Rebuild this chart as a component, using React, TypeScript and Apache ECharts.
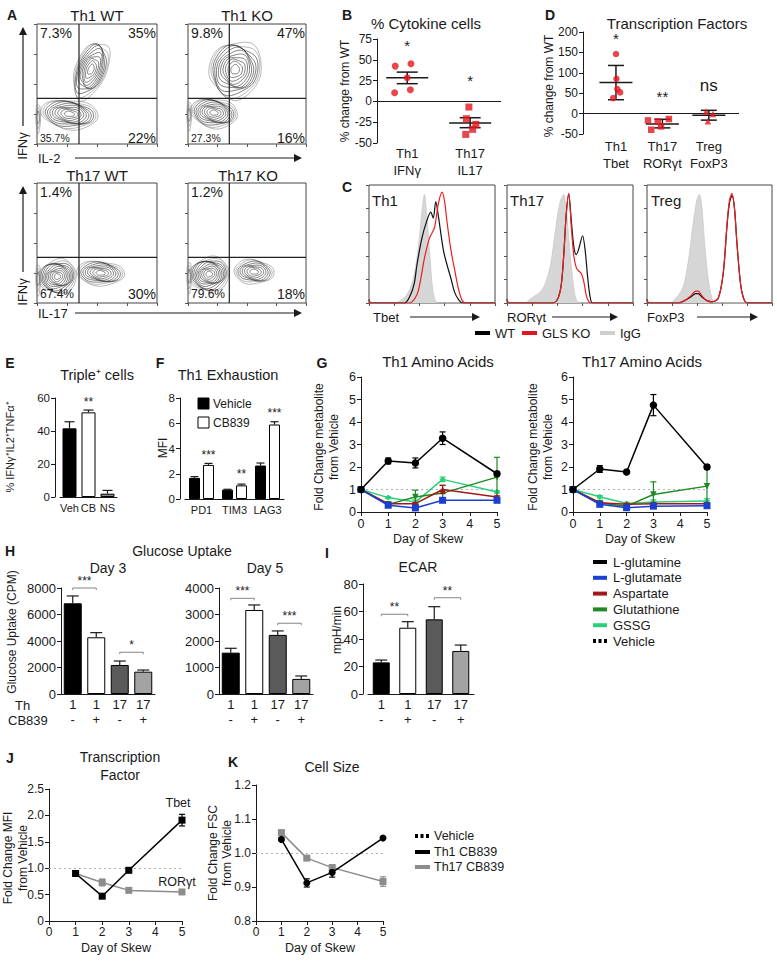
import React, { useEffect, useRef } from "react";
import * as echarts from "echarts";

const FONT = '"Liberation Sans", Arial, Helvetica, sans-serif';
const INK = "#1a1a1a";
const RED = "#e3161d";

// ===== Panel A: flow contour blobs [x%, y%, halfW%, halfH%, tiltDeg, levels] =====
const flowTh1WT = [[45, 62, 13, 25, 22, 10], [27, 25, 24, 12, 6, 10], [1, 22, 2, 12, 0, 3]];
const flowTh1KO = [[40, 62, 22, 24, 18, 11], [22, 26, 20, 12, 8, 10], [1, 24, 2, 12, 0, 3]];
const flowTh17WT = [[17, 22, 16, 14, -10, 11], [53, 25, 20, 10, 4, 9], [1, 20, 2, 13, 0, 3]];
const flowTh17KO = [[18, 24, 17, 14, -10, 11], [56, 26, 17, 10, 4, 8], [1, 22, 2, 13, 0, 3]];
const gateX = [[35, 0], [35, 100]];
const gateY = [[0, 38], [100, 38]];
const quadTh1WT = ["7.3%", "35%", "35.7%", "22%"];
const quadTh1KO = ["9.8%", "47%", "27.3%", "16%"];
const quadTh17WT = ["1.4%", "", "67.4%", "30%"];
const quadTh17KO = ["1.2%", "", "79.6%", "18%"];

// ===== Panel B =====
const catB = ["Th1\nIFNγ", "Th17\nIL17"];
const ptsBTh1 = [[0.81, 42.4], [1.06, 45.3], [1.0, 28.5], [0.8, 10.4], [1.05, 14]];
const ptsBTh17 = [[1.98, -6.8], [1.94, -20.8], [2.09, -27.6], [2.04, -33.6], [1.93, -39.7]];
const meanB = [[1, 28.5, 21.3, 35.2], [2, -26, -31.6, -19.6]];
const sigB = [[1, 67], [2, 25]];
const sigBText = ["*", "*"];

// ===== Panel D =====
const catD = ["Th1\nTbet", "Th17\nRORγt", "Treg\nFoxP3"];
const ptsDTh1 = [[1.0, 146], [1.01, 85.5], [1.03, 60], [1.09, 52], [0.94, 38]];
const ptsDTh17 = [[1.69, -16.7], [1.9, -19], [2.14, -13.3], [1.76, -39.5], [1.97, -31.4]];
const ptsDTreg = [[2.94, 5.4], [3.09, -1], [2.98, -19]];
const meanD = [[1, 76.5, 34, 118], [2, -25.5, -35, -14], [3, -4, -16, 8]];
const sigD = [[1, 185], [2, 42], [3, 68]];
const sigDText = ["*", "**", "ns"];

// ===== Panel C histograms [x%, height%] =====
const th1IgG = [[0, 4], [1.5, 0], [20, 0], [25, 2], [30, 7], [34, 16], [37, 31], [40, 55], [42, 78], [44, 92], [46, 72], [48, 45], [50, 17], [52, 4], [55, 0], [100, 0]];
const th1WT = [[0, 3], [1.5, 0], [28, 0], [33, 7], [36, 17], [38, 32], [42, 55], [46, 70], [49, 77], [51, 72], [53, 86], [55, 74], [59, 45], [62, 32], [65, 21], [68, 9], [71, 3], [74, 0], [100, 0]];
const th1KO = [[0, 3], [1.5, 0], [32, 0], [38, 7], [41, 20], [44, 38], [48, 55], [52, 64], [55, 84], [58, 94], [60, 86], [62, 68], [65, 45], [68, 28], [71, 12], [74, 2], [77, 0], [100, 0]];
const th17IgG = [[0, 3], [1.5, 0], [14, 0], [18, 3], [22, 6], [27, 10], [31, 18], [35, 35], [39, 66], [42, 85], [45, 92], [47, 80], [50, 43], [53, 12], [55, 3], [58, 0], [100, 0]];
const th17WT = [[0, 3], [1.5, 0], [36, 0], [40, 3], [43, 15], [45, 40], [47, 75], [49, 92], [51, 70], [53, 48], [55, 41], [57, 46], [60, 57], [62, 45], [64, 22], [66, 5], [68, 0], [100, 0]];
const th17KO = [[0, 3], [1.5, 0], [36, 0], [40, 3], [43, 15], [45, 40], [47, 75], [49, 93], [51, 65], [53, 40], [55, 30], [57, 27], [59, 25], [61, 18], [63, 6], [65, 1], [67, 0], [100, 0]];
const tregIgG = [[0, 3], [1.5, 0], [18, 0], [24, 5], [29, 14], [33, 35], [37, 68], [40, 88], [42, 92], [44, 80], [46, 52], [49, 20], [52, 4], [55, 0], [100, 0]];
const tregWT = [[0, 3], [1.5, 0], [25, 0], [30, 2], [35, 5], [39, 8], [41, 8], [44, 5], [48, 2], [52, 1], [57, 4], [61, 25], [64, 65], [66, 85], [68, 91], [70, 80], [72, 50], [75, 15], [78, 2], [81, 0], [100, 0]];
const tregKO = [[0, 3], [1.5, 0], [25, 0], [30, 2], [35, 6], [39, 10], [41, 10], [44, 6], [48, 2], [52, 1], [57, 4], [61, 26], [64, 67], [66, 87], [68, 93], [70, 80], [72, 50], [75, 15], [78, 2], [81, 0], [100, 0]];

// ===== Panel E =====
const catE = ["Veh", "CB", "NS"];
const valE = [41.6, 51.3, 2];
const errE = [4, 1.4, 2];
const sigE = [[1, 57.5]];
const sigEText = ["**"];

// ===== Panel F =====
const catF = ["PD1", "TIM3", "LAG3"];
const vehF = [1.67, 0.74, 2.65];
const cbF = [2.7, 1.08, 5.9];
const errVehF = [0.1, 0.03, 0.2];
const errCbF = [0.12, 0.1, 0.22];
const sigF = [[0, 3.5], [1, 1.95], [2, 6.85]];
const sigFText = ["***", "**", "***"];

// ===== Panel G =====
const days = [0, 1, 2, 3, 5];
const th1Glutamine = [1, 2.27, 2.18, 3.28, 1.7];
const th1GlutamineErr = [0.05, 0.13, 0.22, 0.28, 0.1];
const th1Glutamate = [1, 0.3, 0.18, 0.52, 0.52];
const th1GlutamateErr = [0, 0.05, 0.05, 0.05, 0.05];
const th1Aspartate = [1, 0.37, 0.37, 1.0, 0.67];
const th1AspartateErr = [0, 0.05, 0.05, 0.18, 0.05];
const th1Glutathione = [1, 0.34, 0.67, 0.84, 1.55];
const th1GlutathioneErr = [0, 0.05, 0.3, 0.35, 0.88];
const th1GSSG = [1, 0.64, 0.44, 1.45, 0.89];
const th1GSSGErr = [0, 0.04, 0.1, 0.1, 0.05];
const th17Glutamine = [1, 1.91, 1.78, 4.75, 2.0];
const th17GlutamineErr = [0.05, 0.15, 0.05, 0.47, 0.1];
const th17Glutamate = [1, 0.34, 0.19, 0.26, 0.28];
const th17GlutamateErr = [0, 0.05, 0.05, 0.05, 0.05];
const th17Aspartate = [1, 0.41, 0.34, 0.37, 0.37];
const th17AspartateErr = [0, 0.04, 0.04, 0.04, 0.04];
const th17Glutathione = [1, 0.4, 0.26, 0.78, 1.15];
const th17GlutathioneErr = [0, 0.05, 0.1, 0.56, 0.85];
const th17GSSG = [1, 0.68, 0.38, 0.44, 0.49];
const th17GSSGErr = [0, 0.05, 0.05, 0.1, 0.1];
const metNames = ["L-glutamine", "L-glutamate", "Aspartate", "Glutathione", "GSSG"];

// ===== Panels H and I =====
const thRow = ["1", "1", "17", "17"];
const cbRow = ["-", "+", "-", "+"];
const day3 = [6845, 4280, 2190, 1685];
const day3Err = [555, 350, 300, 125];
const day5 = [1560, 3170, 2230, 570];
const day5Err = [165, 190, 150, 110];
const ecar = [23, 48.2, 54.3, 31.3];
const ecarErr = [1.7, 4.4, 9.2, 4.3];
const brDay3 = [[0, 1, 8000], [2, 3, 3150]];
const brDay3Text = ["***", "*"];
const brDay5 = [[0, 1, 3610], [2, 3, 2670]];
const brDay5Text = ["***", "***"];
const brEcar = [[0, 1, 58], [2, 3, 70]];
const brEcarText = ["**", "**"];

// ===== Panels J and K =====
const skewDays = [1, 2, 3, 5];
const tbet = [0.9, 0.47, 0.96, 1.91];
const tbetErr = [0.03, 0.02, 0.02, 0.11];
const rorgt = [0.9, 0.73, 0.58, 0.55];
const rorgtErr = [0.02, 0.065, 0.02, 0.02];
const fscTh1 = [1.04, 0.912, 0.943, 1.044];
const fscTh1Err = [0.004, 0.012, 0.014, 0.004];
const fscTh17 = [1.06, 0.985, 0.957, 0.916];
const fscTh17Err = [0.004, 0.004, 0.008, 0.014];
const jLabels = [[4.85, 2.24], [4.81, 0.74]];
const jLabelText = ["Tbet", "RORγt"];

// ---------- layout ----------
const GRIDS = [
  { left: 37, top: 24, width: 120, height: 120, box: true }, // 0 A Th1 WT
  { left: 188, top: 24, width: 118, height: 120, box: true }, // 1 A Th1 KO
  { left: 37, top: 183, width: 120, height: 120, box: true }, // 2 A Th17 WT
  { left: 188, top: 183, width: 118, height: 120, box: true }, // 3 A Th17 KO
  { left: 377, top: 39, width: 124, height: 104 }, // 4 B
  { left: 583, top: 32, width: 156, height: 102 }, // 5 D
  { left: 369, top: 185, width: 126, height: 118, box: true }, // 6 C Th1
  { left: 507, top: 185, width: 126, height: 118, box: true }, // 7 C Th17
  { left: 647, top: 185, width: 125, height: 118, box: true }, // 8 C Treg
  { left: 60, top: 398, width: 57, height: 99 }, // 9 E
  { left: 185, top: 398, width: 99, height: 101 }, // 10 F
  { left: 361, top: 377, width: 136, height: 135 }, // 11 G Th1
  { left: 573, top: 377, width: 134, height: 135 }, // 12 G Th17
  { left: 61, top: 588, width: 94, height: 106 }, // 13 H day3
  { left: 219, top: 588, width: 94, height: 106 }, // 14 H day5
  { left: 368, top: 584, width: 106, height: 110 }, // 15 I
  { left: 49, top: 789, width: 133, height: 132 }, // 16 J
  { left: 256, top: 785, width: 127, height: 136 }, // 17 K
];

const ls = (size = 12) => ({ fontFamily: FONT, fontSize: size, color: INK });
const tick = (len = 4) => ({ show: true, length: len, lineStyle: { color: INK, width: 1 } });
const line = { show: true, onZero: false, lineStyle: { color: INK, width: 1 } };
const noLine = { show: false, onZero: false };
const plain = (v: number) => String(v);

function flowAxis(gi: number, interval: number) {
  return {
    type: "value", gridIndex: gi, min: 0, max: 100, interval,
    axisLine: noLine, axisTick: { show: true, length: 3, lineStyle: { color: "#555" } },
    axisLabel: { show: false }, splitLine: { show: false },
  };
}
function valAxis(gi: number, min: number, max: number, interval: number, extra: any = {}) {
  return {
    type: "value", gridIndex: gi, min, max, interval,
    axisLine: line, axisTick: tick(4), splitLine: { show: false },
    axisLabel: { ...ls(12), margin: 5, formatter: plain, ...(extra.axisLabel || {}) },
    ...Object.fromEntries(Object.entries(extra).filter(([k]) => k !== "axisLabel")),
  };
}
function catAxis(gi: number, data: string[], labelExtra: any = {}) {
  return {
    type: "category", gridIndex: gi, data, axisLine: line, axisTick: { show: false },
    splitLine: { show: false }, axisLabel: { ...ls(12), margin: 4, interval: 0, ...labelExtra },
  };
}

// ---------- helper series ----------
function contourSeries(gi: number, blobs: number[][]) {
  return {
    type: "custom", xAxisIndex: gi, yAxisIndex: gi, silent: true, z: 3, data: blobs,
    renderItem: (p: any, api: any) => {
      const c = api.coord([api.value(0), api.value(1)]);
      const sz = api.size([api.value(2), api.value(3)]);
      const th = (api.value(4) * Math.PI) / 180;
      const n = api.value(5);
      const children: any[] = [];
      for (let k = n; k >= 1; k--) {
        const s = Math.pow(k / n, 0.75);
        const pts: number[][] = [];
        for (let i = 0; i < 40; i++) {
          const a = (i / 40) * Math.PI * 2;
          const x = Math.cos(a) * sz[0] * s;
          const y = Math.sin(a) * sz[1] * s * (1 + 0.12 * Math.sin(3 * a + k));
          pts.push([c[0] + x * Math.cos(th) - y * Math.sin(th), c[1] + x * Math.sin(th) + y * Math.cos(th)]);
        }
        children.push({
          type: "polygon", shape: { points: pts },
          style: { fill: k === 1 ? "#fff" : "none", stroke: k > n - 2 ? "#8a8a8a" : "#2e2e2e", lineWidth: 0.6 },
        });
      }
      return { type: "group", children };
    },
  };
}
function gateSeries(gi: number, data: number[][]) {
  return {
    type: "line", xAxisIndex: gi, yAxisIndex: gi, data, showSymbol: false, silent: true, z: 4,
    lineStyle: { color: "#222", width: 1.2 },
  };
}
function histSeries(gi: number, data: number[][], color: string, fill: string | null, z: number) {
  return {
    type: "line", xAxisIndex: gi, yAxisIndex: gi, data, smooth: 0.3, showSymbol: false, silent: true, z,
    lineStyle: { color, width: fill ? 0.8 : 1.2 },
    areaStyle: fill ? { color: fill, opacity: 1 } : undefined,
  };
}
function annotSeries(gi: number, pts: number[][], texts: string[], size = 14, offsetPx = 0) {
  return {
    type: "custom", xAxisIndex: gi, yAxisIndex: gi, silent: true, z: 20, data: pts,
    renderItem: (p: any, api: any) => {
      const c = api.coord([api.value(0), api.value(1)]);
      return {
        type: "text", x: c[0] + offsetPx, y: c[1],
        style: {
          text: texts[p.dataIndex], fontSize: size, fontFamily: FONT, fill: INK,
          align: "center", verticalAlign: "middle", textAlign: "center", textVerticalAlign: "middle",
        },
      };
    },
  };
}
function barErrSeries(gi: number, means: number[], errs: number[], offsetPx = 0, cap = 5) {
  return {
    type: "custom", xAxisIndex: gi, yAxisIndex: gi, silent: true, z: 5,
    data: means.map((m, i) => [i, m, m + errs[i]]),
    renderItem: (p: any, api: any) => {
      const a = api.coord([api.value(0), api.value(1)]);
      const b = api.coord([api.value(0), api.value(2)]);
      const x = a[0] + offsetPx;
      const st = { stroke: INK, lineWidth: 1.2 };
      return {
        type: "group", children: [
          { type: "line", shape: { x1: x, y1: a[1], x2: x, y2: b[1] }, style: st },
          { type: "line", shape: { x1: x - cap, y1: b[1], x2: x + cap, y2: b[1] }, style: st },
        ],
      };
    },
  };
}
function meanSemSeries(gi: number, data: number[][], halfMean: number, halfCap: number) {
  return {
    type: "custom", xAxisIndex: gi, yAxisIndex: gi, silent: true, z: 6, data,
    renderItem: (p: any, api: any) => {
      const m = api.coord([api.value(0), api.value(1)]);
      const lo = api.coord([api.value(0), api.value(2)]);
      const hi = api.coord([api.value(0), api.value(3)]);
      const st = { stroke: INK, lineWidth: 1.5 };
      return {
        type: "group", children: [
          { type: "line", shape: { x1: m[0] - halfMean, y1: m[1], x2: m[0] + halfMean, y2: m[1] }, style: st },
          { type: "line", shape: { x1: m[0], y1: lo[1], x2: m[0], y2: hi[1] }, style: st },
          { type: "line", shape: { x1: m[0] - halfCap, y1: lo[1], x2: m[0] + halfCap, y2: lo[1] }, style: st },
          { type: "line", shape: { x1: m[0] - halfCap, y1: hi[1], x2: m[0] + halfCap, y2: hi[1] }, style: st },
        ],
      };
    },
  };
}
function lineErrSeries(gi: number, xs: number[], vals: number[], errs: number[], color: string, cap = 3) {
  const data = xs.map((d, i) => [d, vals[i] - errs[i], vals[i] + errs[i], errs[i]]).filter((r) => r[3] > 0);
  return {
    type: "custom", xAxisIndex: gi, yAxisIndex: gi, silent: true, z: 4, data,
    renderItem: (p: any, api: any) => {
      const a = api.coord([api.value(0), api.value(1)]);
      const b = api.coord([api.value(0), api.value(2)]);
      const st = { stroke: color, lineWidth: 1.2 };
      return {
        type: "group", children: [
          { type: "line", shape: { x1: a[0], y1: a[1], x2: a[0], y2: b[1] }, style: st },
          { type: "line", shape: { x1: a[0] - cap, y1: a[1], x2: a[0] + cap, y2: a[1] }, style: st },
          { type: "line", shape: { x1: a[0] - cap, y1: b[1], x2: a[0] + cap, y2: b[1] }, style: st },
        ],
      };
    },
  };
}
function bracketSeries(gi: number, data: number[][], texts: string[]) {
  return {
    type: "custom", xAxisIndex: gi, yAxisIndex: gi, silent: true, z: 6, data,
    renderItem: (p: any, api: any) => {
      const a = api.coord([api.value(0), api.value(2)]);
      const b = api.coord([api.value(1), api.value(2)]);
      const st = { stroke: "#777", lineWidth: 0.9 };
      return {
        type: "group", children: [
          { type: "line", shape: { x1: a[0], y1: a[1], x2: b[0], y2: b[1] }, style: st },
          { type: "line", shape: { x1: a[0], y1: a[1], x2: a[0], y2: a[1] + 2 }, style: st },
          { type: "line", shape: { x1: b[0], y1: b[1], x2: b[0], y2: b[1] + 2 }, style: st },
          {
            type: "text", x: (a[0] + b[0]) / 2, y: a[1] - 7,
            style: {
              text: texts[p.dataIndex], fontSize: 12, fontFamily: FONT, fill: INK,
              align: "center", verticalAlign: "middle", textAlign: "center", textVerticalAlign: "middle",
            },
          },
        ],
      };
    },
  };
}
function metLine(gi: number, name: string, vals: number[], color: string, symbol: string, size: number, z: number) {
  return {
    type: "line", name, xAxisIndex: gi, yAxisIndex: gi, silent: true, z,
    data: days.map((d, i) => [d, vals[i]]),
    symbol, symbolSize: size, showSymbol: true,
    lineStyle: { color, width: 1.5 }, itemStyle: { color, borderWidth: 0 },
  };
}
function vehicleMark(color = "#a8a8a8") {
  return {
    silent: true, symbol: "none", label: { show: false },
    lineStyle: { color, width: 1, type: [2, 3] }, data: [{ yAxis: 1 }],
  };
}

// ---------- graphic helpers ----------
function T(x: number, y: number, text: string, size = 12, o: any = {}) {
  return {
    type: "text", x, y, rotation: o.rot || 0, silent: true, z: 50,
    style: {
      text, fontSize: size, fontFamily: FONT, fontWeight: o.bold ? "bold" : "normal", fill: o.color || INK,
      align: o.align || "center", verticalAlign: "middle", textAlign: o.align || "center", textVerticalAlign: "middle",
    },
  };
}
function Ln(x1: number, y1: number, x2: number, y2: number, color = INK, w = 1, dash?: number[]) {
  return { type: "line", silent: true, z: 50, shape: { x1, y1, x2, y2 }, style: { stroke: color, lineWidth: w, lineDash: dash } };
}
function arrowRight(x1: number, x2: number, y: number) {
  return [Ln(x1, y, x2 - 6, y, INK, 1.2), { type: "polygon", silent: true, z: 50, shape: { points: [[x2 - 8, y - 4], [x2, y], [x2 - 8, y + 4]] }, style: { fill: INK } }];
}
function arrowUp(x: number, yBottom: number, yTop: number) {
  return [Ln(x, yBottom, x, yTop + 6, INK, 1.2), { type: "polygon", silent: true, z: 50, shape: { points: [[x - 4, yTop + 8], [x, yTop], [x + 4, yTop + 8]] }, style: { fill: INK } }];
}
function quadLabels(g: any, q: string[], topY: number, botY: number) {
  const l = g.left + 3, r = g.left + g.width - 1;
  return [
    T(l, topY, q[0], 14, { align: "left" }),
    T(r, topY, q[1], 14, { align: "right" }),
    T(l, botY, q[2], q[2].length > 4 && g.top < 100 ? 10.5 : 12, { align: "left" }),
    T(r, botY, q[3], 14, { align: "right" }),
  ].filter((e: any) => e.style.text);
}

function buildOption() {
  const grid = GRIDS.map((g) => ({
    left: g.left, top: g.top, width: g.width, height: g.height,
    show: !!g.box, borderColor: "#444", borderWidth: 1, backgroundColor: "transparent",
  }));

  const xAxis: any[] = [
    flowAxis(0, 25), flowAxis(1, 25), flowAxis(2, 25), flowAxis(3, 25),
    {
      type: "value", gridIndex: 4, min: 0.52, max: 2.49, axisLine: noLine, axisTick: { show: false }, splitLine: { show: false },
      axisLabel: { ...ls(13), customValues: [1, 2], formatter: (v: number) => catB[Math.round(v) - 1] || "", lineHeight: 17, margin: 2 },
    },
    {
      type: "value", gridIndex: 5, min: 0.29, max: 3.65, axisLine: noLine, axisTick: { show: false }, splitLine: { show: false },
      axisLabel: { ...ls(13), customValues: [1, 2, 3], formatter: (v: number) => catD[Math.round(v) - 1] || "", lineHeight: 17, margin: 4 },
    },
    flowAxis(6, 20), flowAxis(7, 20), flowAxis(8, 20),
    catAxis(9, catE, { fontSize: 11, margin: 5 }),
    catAxis(10, catF, { fontSize: 11, margin: 5 }),
    valAxis(11, 0, 5, 1, { axisLabel: { fontSize: 12.5 } }),
    valAxis(12, 0, 5, 1, { axisLabel: { fontSize: 12.5 } }),
    catAxis(13, thRow, { fontSize: 13, lineHeight: 15, margin: 3, formatter: (v: string, i: number) => `${thRow[i]}\n${cbRow[i]}` }),
    catAxis(14, thRow, { fontSize: 13, lineHeight: 15, margin: 3, formatter: (v: string, i: number) => `${thRow[i]}\n${cbRow[i]}` }),
    catAxis(15, thRow, { fontSize: 13, lineHeight: 15, margin: 3, formatter: (v: string, i: number) => `${thRow[i]}\n${cbRow[i]}` }),
    valAxis(16, 0, 5, 1),
    valAxis(17, 0, 5, 1),
  ];
  const yAxis: any[] = [
    flowAxis(0, 25), flowAxis(1, 25), flowAxis(2, 25), flowAxis(3, 25),
    valAxis(4, -50, 75, 25),
    valAxis(5, -50, 200, 50),
    flowAxis(6, 20), flowAxis(7, 20), flowAxis(8, 20),
    valAxis(9, 0, 60, 20, { offset: 5, axisLabel: { fontSize: 11.5 } }),
    valAxis(10, 0, 8, 2, { offset: 5, axisLabel: { fontSize: 11.5 } }),
    valAxis(11, 0, 6, 1, { axisLabel: { fontSize: 12.5 } }),
    valAxis(12, 0, 6, 1, { axisLabel: { fontSize: 12.5 } }),
    valAxis(13, 0, 8000, 2000, { axisLabel: { fontSize: 13 } }),
    valAxis(14, 0, 4000, 1000, { axisLabel: { fontSize: 13 } }),
    valAxis(15, 0, 80, 20, { offset: 5, axisLabel: { fontSize: 13 } }),
    valAxis(16, 0, 2.5, 0.5, { axisLabel: { formatter: (v: number) => (v === 0 ? "0" : v.toFixed(1)) } }),
    valAxis(17, 0.8, 1.2, 0.1, { axisLabel: { formatter: (v: number) => v.toFixed(1) } }),
  ];

  const series: any[] = [];
  // A
  [flowTh1WT, flowTh1KO, flowTh17WT, flowTh17KO].forEach((b, i) => {
    series.push(contourSeries(i, b));
    series.push(gateSeries(i, gateX));
    series.push(gateSeries(i, gateY));
  });
  // B
  series.push({
    type: "scatter", xAxisIndex: 4, yAxisIndex: 4, data: ptsBTh1, symbol: "circle", symbolSize: 7, silent: true,
    itemStyle: { color: RED }, z: 7,
    markLine: { silent: true, symbol: "none", label: { show: false }, lineStyle: { color: INK, width: 1, type: "solid" }, data: [{ yAxis: 0 }] },
  });
  series.push({ type: "scatter", xAxisIndex: 4, yAxisIndex: 4, data: ptsBTh17, symbol: "rect", symbolSize: 7, silent: true, itemStyle: { color: RED }, z: 7 });
  series.push(meanSemSeries(4, meanB, 21, 10.5));
  series.push(annotSeries(4, sigB, sigBText, 15));
  // D
  series.push({
    type: "scatter", xAxisIndex: 5, yAxisIndex: 5, data: ptsDTh1, symbol: "circle", symbolSize: 6.5, silent: true,
    itemStyle: { color: RED }, z: 7,
    markLine: { silent: true, symbol: "none", label: { show: false }, lineStyle: { color: INK, width: 1, type: "solid" }, data: [{ yAxis: 0 }] },
  });
  series.push({ type: "scatter", xAxisIndex: 5, yAxisIndex: 5, data: ptsDTh17, symbol: "rect", symbolSize: 6.5, silent: true, itemStyle: { color: RED }, z: 7 });
  series.push({ type: "scatter", xAxisIndex: 5, yAxisIndex: 5, data: ptsDTreg, symbol: "triangle", symbolSize: 6.5, silent: true, itemStyle: { color: RED }, z: 7 });
  series.push(meanSemSeries(5, meanD, 16.5, 8));
  series.push({ ...annotSeries(5, sigD.slice(0, 2), sigDText.slice(0, 2), 15) });
  series.push(annotSeries(5, sigD.slice(2), sigDText.slice(2), 17));
  // C
  series.push(histSeries(6, th1IgG, "#c9c9c9", "#d6d6d6", 2), histSeries(6, th1WT, "#111", null, 3), histSeries(6, th1KO, "#ee1c1c", null, 4));
  series.push(histSeries(7, th17IgG, "#c9c9c9", "#d6d6d6", 2), histSeries(7, th17WT, "#111", null, 3), histSeries(7, th17KO, "#ee1c1c", null, 4));
  series.push(histSeries(8, tregIgG, "#c9c9c9", "#d6d6d6", 2), histSeries(8, tregWT, "#111", null, 3), histSeries(8, tregKO, "#ee1c1c", null, 4));
  // E
  const colE = ["#000", "#fff", "#8a8a8a"];
  series.push({
    type: "bar", xAxisIndex: 9, yAxisIndex: 9, barWidth: 14, silent: true,
    data: valE.map((v, i) => ({ value: v, itemStyle: { color: colE[i], borderColor: "#000", borderWidth: 1 } })),
  });
  series.push(barErrSeries(9, valE, errE, 0, 5));
  series.push(annotSeries(9, sigE, sigEText, 12));
  // F
  series.push({
    type: "bar", name: "Vehicle", xAxisIndex: 10, yAxisIndex: 10, barWidth: 11, barGap: "27%", silent: true,
    data: vehF, itemStyle: { color: "#000", borderColor: "#000", borderWidth: 1 },
  });
  series.push({
    type: "bar", name: "CB839", xAxisIndex: 10, yAxisIndex: 10, barWidth: 11, barGap: "27%", silent: true,
    data: cbF, itemStyle: { color: "#fff", borderColor: "#000", borderWidth: 1 },
  });
  series.push(barErrSeries(10, vehF, errVehF, -7, 4), barErrSeries(10, cbF, errCbF, 7, 4));
  series.push(annotSeries(10, sigF, sigFText, 12, 7));
  // G
  const gCols = ["#000000", "#1b3fd1", "#a31818", "#1f8a22", "#2ccf78"];
  const gSym = ["circle", "rect", "triangle", "path://M0,0L10,0L5,9Z", "diamond"];
  const gSize = [7.5, 7, 6, 6.5, 6];
  const th1Sets = [[th1Glutamine, th1GlutamineErr], [th1Glutamate, th1GlutamateErr], [th1Aspartate, th1AspartateErr], [th1Glutathione, th1GlutathioneErr], [th1GSSG, th1GSSGErr]];
  const th17Sets = [[th17Glutamine, th17GlutamineErr], [th17Glutamate, th17GlutamateErr], [th17Aspartate, th17AspartateErr], [th17Glutathione, th17GlutathioneErr], [th17GSSG, th17GSSGErr]];
  [[11, th1Sets], [12, th17Sets]].forEach(([gi, sets]: any) => {
    for (let k = sets.length - 1; k >= 0; k--) {
      const s = metLine(gi, metNames[k], sets[k][0], gCols[k], gSym[k], gSize[k], 10 - k);
      if (k === 4) (s as any).markLine = vehicleMark("#b0b0b0");
      series.push(s);
      series.push({ ...lineErrSeries(gi, days, sets[k][0], sets[k][1], gCols[k], 3), z: 10 - k });
    }
  });
  // H, I
  const colBars = ["#000", "#fff", "#5a5a5a", "#a3a3a3"];
  [[13, day3, day3Err, brDay3, brDay3Text, 18], [14, day5, day5Err, brDay5, brDay5Text, 18], [15, ecar, ecarErr, brEcar, brEcarText, 17]].forEach(
    ([gi, vals, errs, br, brT, bw]: any) => {
      series.push({
        type: "bar", xAxisIndex: gi, yAxisIndex: gi, barWidth: bw, silent: true,
        data: vals.map((v: number, i: number) => ({ value: v, itemStyle: { color: colBars[i], borderColor: "#000", borderWidth: 1 } })),
      });
      series.push(barErrSeries(gi, vals, errs, 0, 6));
      series.push(bracketSeries(gi, br, brT));
    }
  );
  // J
  series.push({
    type: "line", xAxisIndex: 16, yAxisIndex: 16, data: skewDays.map((d, i) => [d, rorgt[i]]), symbol: "rect", symbolSize: 7, silent: true,
    lineStyle: { color: "#8c8c8c", width: 1.5 }, itemStyle: { color: "#8c8c8c" }, z: 5, markLine: vehicleMark("#b0b0b0"),
  });
  series.push(lineErrSeries(16, skewDays, rorgt, rorgtErr, "#8c8c8c", 3));
  series.push({
    type: "line", xAxisIndex: 16, yAxisIndex: 16, data: skewDays.map((d, i) => [d, tbet[i]]), symbol: "rect", symbolSize: 7, silent: true,
    lineStyle: { color: "#000", width: 1.5 }, itemStyle: { color: "#000" }, z: 6,
  });
  series.push(lineErrSeries(16, skewDays, tbet, tbetErr, "#000", 3));
  series.push(annotSeries(16, jLabels, jLabelText, 12.5));
  // K
  series.push({
    type: "line", xAxisIndex: 17, yAxisIndex: 17, data: skewDays.map((d, i) => [d, fscTh17[i]]), symbol: "rect", symbolSize: 7, silent: true,
    lineStyle: { color: "#8c8c8c", width: 1.5 }, itemStyle: { color: "#8c8c8c" }, z: 5, markLine: vehicleMark("#b0b0b0"),
  });
  series.push(lineErrSeries(17, skewDays, fscTh17, fscTh17Err, "#8c8c8c", 3));
  series.push({
    type: "line", xAxisIndex: 17, yAxisIndex: 17, data: skewDays.map((d, i) => [d, fscTh1[i]]), symbol: "circle", symbolSize: 7, silent: true,
    lineStyle: { color: "#000", width: 1.5 }, itemStyle: { color: "#000" }, z: 6,
  });
  series.push(lineErrSeries(17, skewDays, fscTh1, fscTh1Err, "#000", 3));

  // ---------- graphic texts ----------
  const G = GRIDS;
  const el: any[] = [];
  [["A", 12, 15], ["B", 347, 15], ["D", 550, 15], ["C", 347, 187], ["E", 10, 363], ["F", 160, 363], ["G", 322, 363],
   ["H", 10, 551], ["I", 327, 553], ["J", 10, 758], ["K", 233, 762]].forEach(([t, x, y]: any) => el.push(T(x, y, t, 14, { bold: true })));
  el.push(T(97, 15, "Th1 WT", 15), T(247, 15, "Th1 KO", 15), T(97, 175, "Th17 WT", 15), T(248, 175, "Th17 KO", 15));
  el.push(T(426, 23, "% Cytokine cells", 15), T(677, 23, "Transcription Factors", 15));
  el.push(T(97, 375, "Triple⁺ cells", 14.5), T(228, 375, "Th1 Exhaustion", 14.5));
  el.push(T(438, 361, "Th1 Amino Acids", 15), T(642, 361, "Th17 Amino Acids", 15));
  el.push(T(182, 551, "Glucose Uptake", 14), T(108, 568, "Day 3", 14), T(265, 568, "Day 5", 14), T(418, 567, "ECAR", 14));
  el.push(T(120, 757, "Transcription", 14), T(120, 775, "Factor", 14), T(332, 767, "Cell Size", 14));
  const R = Math.PI / 2;
  el.push(T(345, 91, "% change from WT", 12, { rot: R }), T(549, 86, "% change from WT", 12, { rot: R }));
  el.push(T(10, 447, "% IFNγ⁺IL2⁺TNFα⁺", 11, { rot: R }), T(163, 448, "MFI", 12, { rot: R }));
  el.push(T(319, 447, "Fold Change metabolite", 12, { rot: R }), T(334, 447, "from Vehicle", 12, { rot: R }));
  el.push(T(533, 447, "Fold Change metabolite", 12, { rot: R }), T(548, 447, "from Vehicle", 12, { rot: R }));
  el.push(T(12, 632, "Glucose Uptake (CPM)", 12, { rot: R }), T(337, 630, "mpH/min", 12, { rot: R }));
  el.push(T(8, 858, "Fold Change MFI", 12, { rot: R }), T(23, 858, "from Vehicle", 12, { rot: R }));
  el.push(T(213, 853, "Fold Change FSC", 12, { rot: R }), T(227, 853, "from Vehicle", 12, { rot: R }));
  el.push(T(428, 539, "Day of Skew", 12.5), T(640, 539, "Day of Skew", 12.5), T(116, 948, "Day of Skew", 12.5), T(320, 948, "Day of Skew", 12.5));
  el.push(T(15, 705, "Th", 13, { align: "left" }), T(8, 720, "CB839", 13, { align: "left" }));
  el.push(...arrowUp(23, 126, 27), T(22, 146, "IFNγ", 13, { rot: R }), T(38, 158, "IL-2", 13, { align: "left" }), ...arrowRight(75, 302, 158));
  el.push(...arrowUp(23, 272, 186), T(22, 292, "IFNγ", 13, { rot: R }), T(38, 313, "IL-17", 13, { align: "left" }), ...arrowRight(75, 302, 313));
  el.push(...quadLabels(G[0], quadTh1WT, 33, 138), ...quadLabels(G[1], quadTh1KO, 33, 138));
  el.push(...quadLabels(G[2], quadTh17WT, 192, 294), ...quadLabels(G[3], quadTh17KO, 192, 294));
  el.push(T(372, 200, "Th1", 15, { align: "left" }), T(510, 200, "Th17", 15, { align: "left" }), T(651, 200, "Treg", 15, { align: "left" }));
  el.push(T(373, 317, "Tbet", 13, { align: "left" }), ...arrowRight(410, 480, 317));
  el.push(T(507, 317, "RORγt", 13, { align: "left" }), ...arrowRight(552, 618, 317));
  el.push(T(647, 317, "FoxP3", 13, { align: "left" }), ...arrowRight(697, 758, 317));
  el.push(Ln(475, 333, 490, 333, "#000", 4), T(495, 333, "WT", 13, { align: "left" }));
  el.push(Ln(522, 333, 537, 333, RED, 4), T(542, 333, "GLS KO", 13, { align: "left" }));
  el.push(Ln(600, 333, 615, 333, "#cfcfcf", 4), T(620, 333, "IgG", 13, { align: "left" }));
  el.push({ type: "rect", silent: true, z: 50, shape: { x: 198, y: 398, width: 11, height: 11 }, style: { fill: "#000", stroke: "#000" } });
  el.push({ type: "rect", silent: true, z: 50, shape: { x: 198, y: 417, width: 11, height: 11 }, style: { fill: "#fff", stroke: "#000" } });
  el.push(T(213, 403.5, "Vehicle", 12, { align: "left" }), T(213, 422.5, "CB839", 12, { align: "left" }));
  metNames.forEach((n, i) => {
    const y = 562 + i * 15.8;
    el.push(Ln(593, y, 607, y, gCols[i], 4), T(613, y, n, 13, { align: "left" }));
  });
  el.push(Ln(593, 641, 607, 641, "#000", 4, [3, 2.5]), T(613, 641, "Vehicle", 13, { align: "left" }));
  el.push(Ln(415, 836, 430, 836, "#000", 4, [3, 2.5]), T(434, 836, "Vehicle", 12.5, { align: "left" }));
  el.push(Ln(415, 852, 430, 852, "#000", 4), T(434, 852, "Th1 CB839", 12.5, { align: "left" }));
  el.push(Ln(415, 867, 430, 867, "#8c8c8c", 4), T(434, 867, "Th17 CB839", 12.5, { align: "left" }));

  return {
    animation: false,
    backgroundColor: "#fff",
    textStyle: { fontFamily: FONT },
    grid, xAxis, yAxis, series,
    graphic: { elements: el },
  };
}

export default function App() {
  const ref = useRef<HTMLDivElement>(null);
  useEffect(() => {
    document.body.style.margin = "0";
    const chart = echarts.init(ref.current!, null, { renderer: "svg" });
    chart.setOption(buildOption() as any);
    return () => chart.dispose();
  }, []);
  return <div ref={ref} style={{ position: "absolute", left: 0, top: 0, width: 777, height: 961, background: "#fff" }} />;
}
